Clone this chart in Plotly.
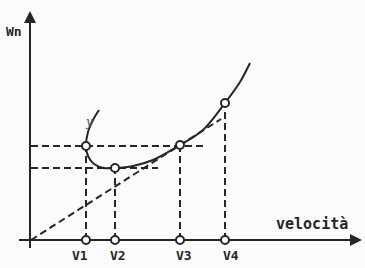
import plotly.graph_objects as go

# Data (units: arbitrary, origin at axes intersection)
v_labels = ["V1", "V2", "V3", "V4"]
v_values = [55, 84, 149, 194]
wn_values = [94, 72, 95, 137]

curve_x = [68, 62, 57, 55, 57, 63, 73, 84, 102, 122, 149, 172, 194, 209, 219]
curve_y = [130, 120, 108, 94, 84, 76, 72, 72, 74, 80, 95, 110, 137, 158, 177]

tangent_x = [0, 149, 190]
tangent_y = [0, 95, 121]

hline1_x = [0, 172]   # Wn at V1/V3
hline2_x = [0, 127]   # Wn at V2

INK = "#262626"
FONT = dict(family="DejaVu Sans Mono", size=13, color=INK)

fig = go.Figure()

dash = "7px,4px"
# horizontal dashed lines
fig.add_trace(go.Scatter(x=hline1_x, y=[wn_values[0], wn_values[0]], mode="lines",
                         line=dict(color=INK, width=2, dash=dash), hoverinfo="skip"))
fig.add_trace(go.Scatter(x=hline2_x, y=[wn_values[1], wn_values[1]], mode="lines",
                         line=dict(color=INK, width=2, dash=dash), hoverinfo="skip"))
# vertical dashed lines
for vx, wy in zip(v_values, wn_values):
    fig.add_trace(go.Scatter(x=[vx, vx], y=[0, wy], mode="lines",
                             line=dict(color=INK, width=2, dash=dash), hoverinfo="skip"))
# tangent line from origin
fig.add_trace(go.Scatter(x=tangent_x, y=tangent_y, mode="lines",
                         line=dict(color=INK, width=2, dash=dash), hoverinfo="skip"))
# main curve
fig.add_trace(go.Scatter(x=curve_x, y=curve_y, mode="lines", line_shape="spline",
                         line=dict(color=INK, width=2), hoverinfo="skip"))
# axes lines
fig.add_trace(go.Scatter(x=[-12, 322], y=[0, 0], mode="lines",
                         line=dict(color=INK, width=2), hoverinfo="skip"))
fig.add_trace(go.Scatter(x=[-1, -1], y=[-8, 218], mode="lines",
                         line=dict(color=INK, width=2), hoverinfo="skip"))
# circle markers on curve and axis
fig.add_trace(go.Scatter(x=v_values, y=wn_values, mode="markers",
                         marker=dict(symbol="circle", size=8, color="white",
                                     line=dict(color=INK, width=2)), hoverinfo="skip"))
fig.add_trace(go.Scatter(x=v_values, y=[0] * len(v_values), mode="markers",
                         marker=dict(symbol="circle", size=8, color="white",
                                     line=dict(color=INK, width=2)), hoverinfo="skip"))

# arrow heads
fig.add_annotation(x=331, y=0, ax=316, ay=0, xref="x", yref="y", axref="x", ayref="y",
                   showarrow=True, arrowhead=2, arrowsize=1.2, arrowwidth=2, arrowcolor=INK, text="")
fig.add_annotation(x=-1, y=229, ax=-1, ay=212, xref="x", yref="y", axref="x", ayref="y",
                   showarrow=True, arrowhead=2, arrowsize=1.2, arrowwidth=2, arrowcolor=INK, text="")

# labels
fig.add_annotation(x=-17.5, y=208.5, text="<b>Wn</b>", showarrow=False, font=FONT)
fig.add_annotation(x=281, y=16, text="<b>velocità</b>", showarrow=False,
                   font=dict(FONT, size=15))
label_dx = [-6, 3, 4, 6]
for lab, vx, dx in zip(v_labels, v_values, label_dx):
    fig.add_annotation(x=vx + dx, y=-15.5, text="<b>%s</b>" % lab, showarrow=False, font=FONT)
# small hand mark on the curve
fig.add_annotation(x=58, y=118, text="<i>y</i>", showarrow=False,
                   font=dict(family="DejaVu Serif", size=12, color="#555555"))

fig.update_layout(
    width=365, height=268, margin=dict(l=0, r=0, t=0, b=0),
    paper_bgcolor="#fbfbfb", plot_bgcolor="#fbfbfb", showlegend=False,
    xaxis=dict(range=[-31, 334], visible=False, fixedrange=True),
    yaxis=dict(range=[-28, 240], visible=False, fixedrange=True),
)

fig.write_html("out.html")
